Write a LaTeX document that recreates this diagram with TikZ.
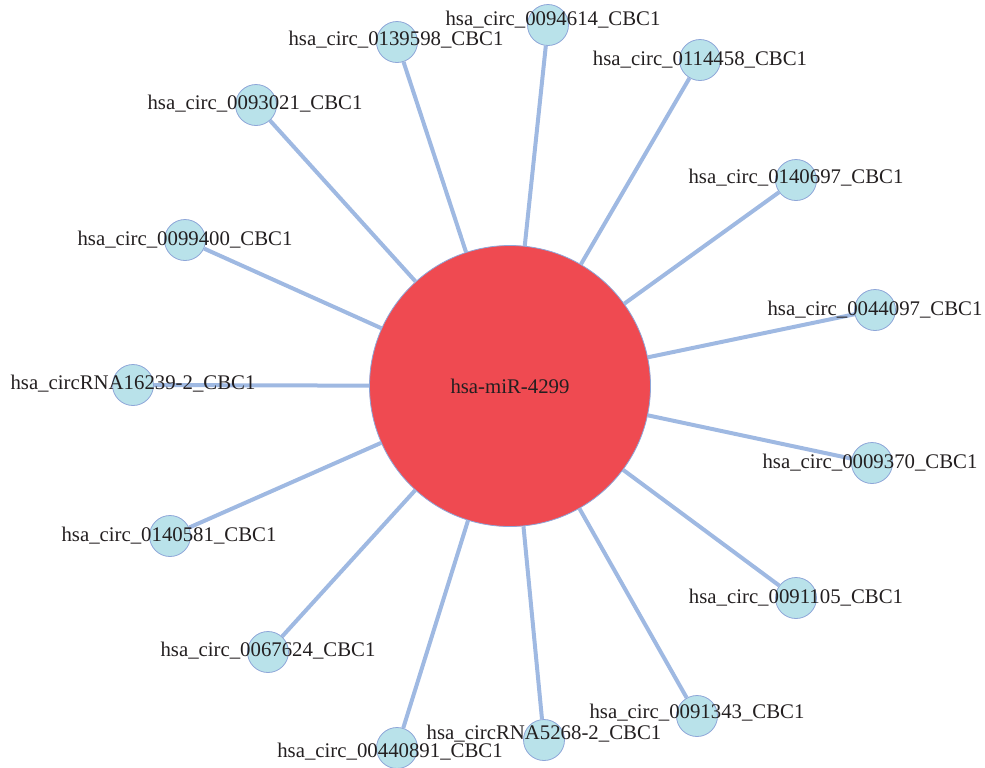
\documentclass[tikz,border=0pt]{standalone}
\usepackage{fontspec}
\setmainfont{Liberation Serif}

\definecolor{hubred}{HTML}{EF4A51}
\definecolor{leafcyan}{HTML}{B9E2EA}
\definecolor{rimblue}{HTML}{8EA6D8}
\definecolor{edgeblue}{HTML}{9FB9E2}
\definecolor{labelgray}{HTML}{231F20}

\begin{document}
\begin{tikzpicture}[x=0.5pt, y=-0.5pt,
  every node/.style={font=\fontsize{10.4pt}{12pt}\selectfont, text=labelgray},
  hub/.style={circle, draw=rimblue, line width=0.4pt, fill=hubred, minimum size=140.5pt, inner sep=0pt},
  leaf/.style={circle, draw=rimblue, line width=0.4pt, fill=leafcyan, minimum size=20.5pt, inner sep=0pt},
  tag/.style={anchor=base, inner sep=0pt},
  link/.style={draw=edgeblue, line width=2pt}
]
\useasboundingbox (0,0) rectangle (985,767);

\node[hub] (mir) at (510,386) {hsa-miR-4299};

% circRNA circles
\node[leaf] (c0094614) at (548,25) {};
\node[leaf] (c0139598) at (397,42) {};
\node[leaf] (c0114458) at (700,60) {};
\node[leaf] (c0093021) at (256,105) {};
\node[leaf] (c0140697) at (796,180) {};
\node[leaf] (c0099400) at (185,240) {};
\node[leaf] (c0044097) at (875,310) {};
\node[leaf] (c16239) at (133,385) {};
\node[leaf] (c0009370) at (872,463) {};
\node[leaf] (c0140581) at (170,536) {};
\node[leaf] (c0091105) at (796,598) {};
\node[leaf] (c0067624) at (268,652) {};
\node[leaf] (c0091343) at (697,716) {};
\node[leaf] (c5268) at (544,740) {};
\node[leaf] (c00440891) at (397,748) {};

% edges
\foreach \leafname in {c0094614, c0139598, c0114458, c0093021, c0140697,
  c0099400, c0044097, c16239, c0009370, c0140581, c0091105, c0067624,
  c0091343, c5268, c00440891}
  \draw[link] (mir) -- (\leafname);

% labels
\node[tag] (t0094614) at (553,25) {hsa\_circ\_0094614\_CBC1};
\node[tag] (t0139598) at (396,45) {hsa\_circ\_0139598\_CBC1};
\node[tag] (t0114458) at (700,65) {hsa\_circ\_0114458\_CBC1};
\node[tag] (t0093021) at (255,109) {hsa\_circ\_0093021\_CBC1};
\node[tag] (t0140697) at (796,183) {hsa\_circ\_0140697\_CBC1};
\node[tag] (t0099400) at (185,245) {hsa\_circ\_0099400\_CBC1};
\node[tag] (t0044097) at (875,315) {hsa\_circ\_0044097\_CBC1};
\node[tag] (t16239) at (133,389) {hsa\_circRNA16239-2\_CBC1};
\node[tag] (t0009370) at (870,468) {hsa\_circ\_0009370\_CBC1};
\node[tag] (t0140581) at (169,541) {hsa\_circ\_0140581\_CBC1};
\node[tag] (t0091105) at (796,603) {hsa\_circ\_0091105\_CBC1};
\node[tag] (t0067624) at (268,656) {hsa\_circ\_0067624\_CBC1};
\node[tag] (t0091343) at (697,718) {hsa\_circ\_0091343\_CBC1};
\node[tag] (t5268) at (544,739) {hsa\_circRNA5268-2\_CBC1};
\node[tag] (t00440891) at (390,757) {hsa\_circ\_00440891\_CBC1};

\end{tikzpicture}
\end{document}
